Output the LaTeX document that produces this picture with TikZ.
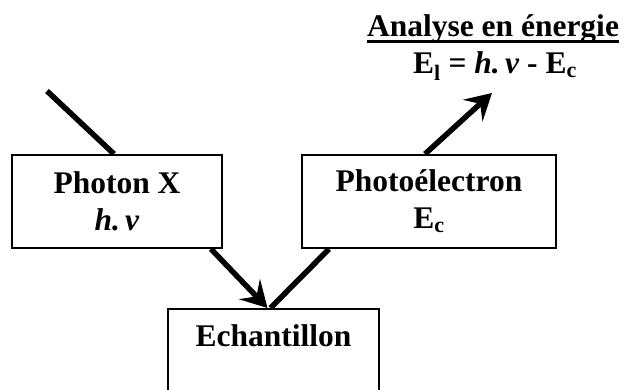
\documentclass[tikz,border=0pt]{standalone}
\usepackage{fontspec}
\setmainfont{Liberation Serif}
\usetikzlibrary{arrows.meta}
\begin{document}
\begin{tikzpicture}[x=1pt,y=-1pt,
  box/.style={draw, line width=2pt, inner sep=0pt, align=center,
    font=\fontsize{31.5}{37}\selectfont\bfseries},
  lbl/.style={font=\fontsize{31.5}{37}\selectfont\bfseries, inner sep=0pt},
  ray/.style={line width=5.5pt},
  arr/.style={line width=5.5pt, -{Stealth[length=26pt,width=29pt,inset=10pt]}}]
\useasboundingbox (0,0) rectangle (625,390);
\node[box, minimum width=210pt, minimum height=93pt] (photon) at (117,201.5)
  {Photon X\\\textit{h.\,ν}};
\node[box, minimum width=254pt, minimum height=93pt] (photoel) at (429,201.5)
  {Photoélectron\\E\textsubscript{c}};
\node[box, minimum width=211pt, minimum height=84pt, anchor=north] (ech) at (273.5,308) {};
\node[lbl, anchor=base] (echtxt) at (273.5,347) {Echantillon};
\node[lbl, anchor=base] (ana) at (493,37) {Analyse en énergie};
\draw[line width=3pt] ([yshift=-5pt]ana.base west) -- ([yshift=-5pt]ana.base east);
\node[lbl, anchor=base] (eq) at (495,74) {E\textsubscript{l} = \textit{h.\,ν} - E\textsubscript{c}};
\coordinate (src) at (47,91);
\coordinate (det) at (492,93);
\draw[ray] (src) -- ([xshift=-3pt]photon.north);
\draw[arr] ([xshift=-12pt]photon.south east) -- ([xshift=-6pt]ech.north);
\draw[ray] ([xshift=28pt]photoel.south west) -- ([xshift=-3pt]ech.north);
\draw[arr] ([xshift=-4pt]photoel.north) -- (det);
\end{tikzpicture}
\end{document}
